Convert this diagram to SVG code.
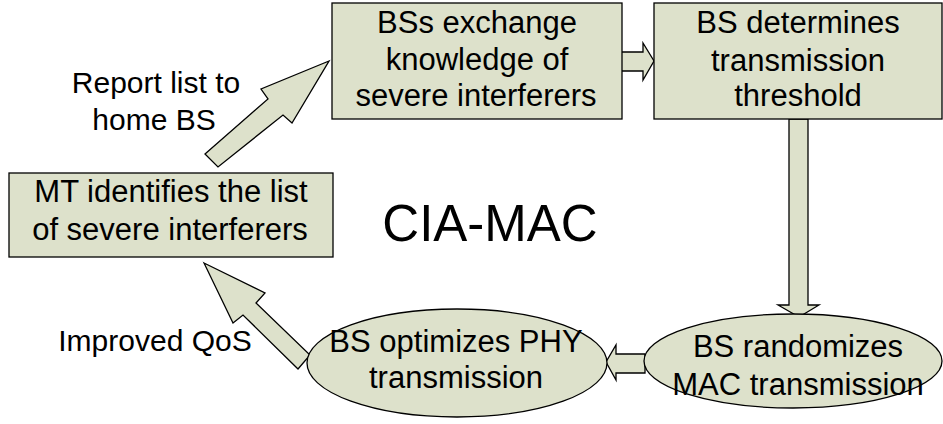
<svg xmlns="http://www.w3.org/2000/svg" width="943" height="424" viewBox="0 0 943 424">
<style>
.n{fill:#dde1cb;stroke:#000;stroke-width:1.3}
.a{fill:#dde1cb;stroke:#000;stroke-width:1.3;stroke-linejoin:miter}
text{font-family:"Liberation Sans",Arial,sans-serif;font-size:31px;fill:#000;text-anchor:middle}
.l{font-size:30px}
</style>
<rect width="943" height="424" fill="#fff"/>
<g id="connectors">
<polygon class="a" points="205,154 268,99 261,89 329,61 292,123 283,115 218,167"/>
<polygon class="a" points="621,52 643,52 643,43 654,61 643,80 643,71 621,71"/>
<polygon class="a" points="789,119 808,119 808,305 819,305 799,317 778,305 789,305"/>
<polygon class="a" points="645,354 616,354 616,345 606,362 616,380 616,373 645,373"/>
<polygon class="a" points="204,263 265,293 256,303 310,355 298,369 243,315 233,323"/>
</g>
<g id="box-exchange">
<rect class="n" x="332" y="3" width="290" height="116"/>
<text x="477" y="33">BSs exchange</text>
<text x="477" y="70">knowledge of</text>
<text x="476" y="106">severe interferers</text>
</g>
<g id="box-threshold">
<rect class="n" x="654" y="3" width="288" height="116"/>
<text x="798" y="33">BS determines</text>
<text x="798" y="71">transmission</text>
<text x="798" y="106">threshold</text>
</g>
<g id="box-mt">
<rect class="n" x="9" y="173" width="324" height="84"/>
<text x="171" y="202">MT identifies the list</text>
<text x="170" y="240">of severe interferers</text>
</g>
<g id="ellipse-phy">
<ellipse class="n" cx="457" cy="363" rx="150" ry="54"/>
<text x="456" y="352">BS optimizes PHY</text>
<text x="456" y="388">transmission</text>
</g>
<g id="ellipse-mac">
<ellipse class="n" cx="793" cy="361" rx="149" ry="47"/>
<text x="798" y="357">BS randomizes</text>
<text x="798" y="395">MAC transmission</text>
</g>
<g id="labels">
<text class="l" x="156" y="93">Report list to</text>
<text class="l" x="154" y="130">home BS</text>
<text class="l" x="155" y="351">Improved QoS</text>
<text x="490" y="241" style="font-size:51px">CIA-MAC</text>
</g>
</svg>
